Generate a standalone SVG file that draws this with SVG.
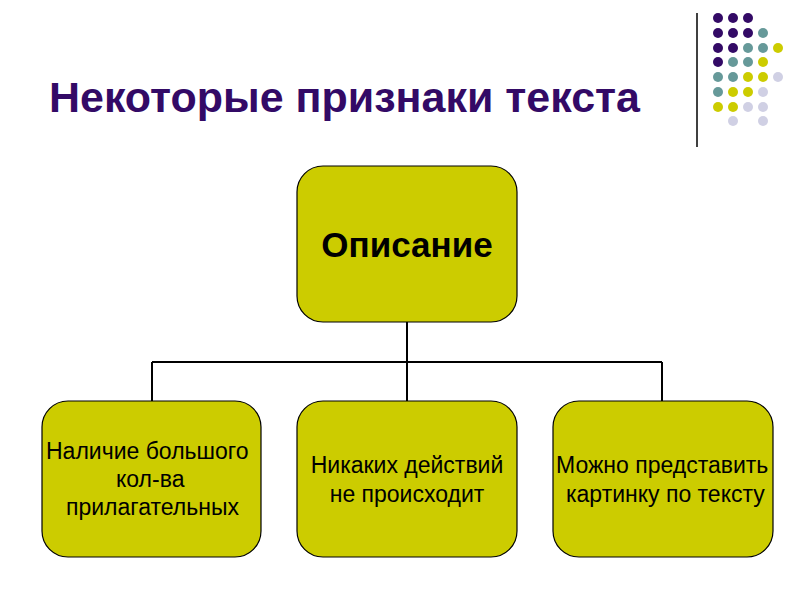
<svg xmlns="http://www.w3.org/2000/svg" width="800" height="600" viewBox="0 0 800 600">
<style>
.node{fill:#cccc00;stroke:#000;stroke-width:1.2}
.conn{fill:none;stroke:#000;stroke-width:2}
.t{font-family:"Liberation Sans",Arial,sans-serif;font-size:23px;fill:#000}
.h{font-weight:bold;font-size:35px}
.p{fill:#330a66}.g{fill:#669999}.y{fill:#cccc00}.l{fill:#d0d0e4}
</style>
<rect width="800" height="600" fill="#fff"/>
<g id="decor">
<line x1="697" y1="13" x2="697" y2="147" stroke="#000" stroke-width="1.5"/>
<g>
<circle class="p" cx="718" cy="18" r="5"/><circle class="p" cx="733" cy="18" r="5"/><circle class="p" cx="748" cy="18" r="5"/>
<circle class="p" cx="718" cy="33" r="5"/><circle class="p" cx="733" cy="33" r="5"/><circle class="p" cx="748" cy="33" r="5"/><circle class="g" cx="763" cy="33" r="5"/>
<circle class="p" cx="718" cy="48" r="5"/><circle class="p" cx="733" cy="48" r="5"/><circle class="g" cx="748" cy="48" r="5"/><circle class="g" cx="763" cy="48" r="5"/><circle class="y" cx="778" cy="48" r="5"/>
<circle class="p" cx="718" cy="62" r="5"/><circle class="g" cx="733" cy="62" r="5"/><circle class="g" cx="748" cy="62" r="5"/><circle class="y" cx="763" cy="62" r="5"/>
<circle class="g" cx="718" cy="77" r="5"/><circle class="g" cx="733" cy="77" r="5"/><circle class="y" cx="748" cy="77" r="5"/><circle class="y" cx="763" cy="77" r="5"/><circle class="l" cx="778" cy="77" r="5"/>
<circle class="g" cx="718" cy="92" r="5"/><circle class="y" cx="733" cy="92" r="5"/><circle class="y" cx="748" cy="92" r="5"/><circle class="l" cx="763" cy="92" r="5"/>
<circle class="y" cx="718" cy="107" r="5"/><circle class="y" cx="733" cy="107" r="5"/><circle class="l" cx="748" cy="107" r="5"/><circle class="l" cx="763" cy="107" r="5"/>
<circle class="l" cx="733" cy="121" r="5"/><circle class="l" cx="763" cy="121" r="5"/>
</g>
</g>
<text x="49" y="112" font-family="'Liberation Sans',Arial,sans-serif" font-weight="bold" font-size="43" fill="#330a66" textLength="591" lengthAdjust="spacingAndGlyphs">Некоторые признаки текста</text>
<g id="connectors">
<path class="conn" d="M407 322V362M152 362H662M152 362V401M407 362V401M662 362V401"/>
</g>
<g id="node-top">
<rect class="node" x="297" y="166" width="220" height="156" rx="26"/>
<text class="t h" x="407" y="257" text-anchor="middle">Описание</text>
</g>
<g id="node-left">
<rect class="node" x="42" y="401" width="219" height="156" rx="26"/>
<text class="t" x="46" y="459">Наличие большого</text>
<text class="t" x="116" y="487">кол-ва</text>
<text class="t" x="66" y="515">прилагательных</text>
</g>
<g id="node-mid">
<rect class="node" x="297" y="401" width="220" height="156" rx="26"/>
<text class="t" x="407" y="473" text-anchor="middle">Никаких действий</text>
<text class="t" x="407" y="502" text-anchor="middle">не происходит</text>
</g>
<g id="node-right">
<rect class="node" x="553" y="401" width="220" height="156" rx="26"/>
<text class="t" x="556" y="473">Можно представить</text>
<text class="t" x="566" y="502">картинку по тексту</text>
</g>
</svg>
